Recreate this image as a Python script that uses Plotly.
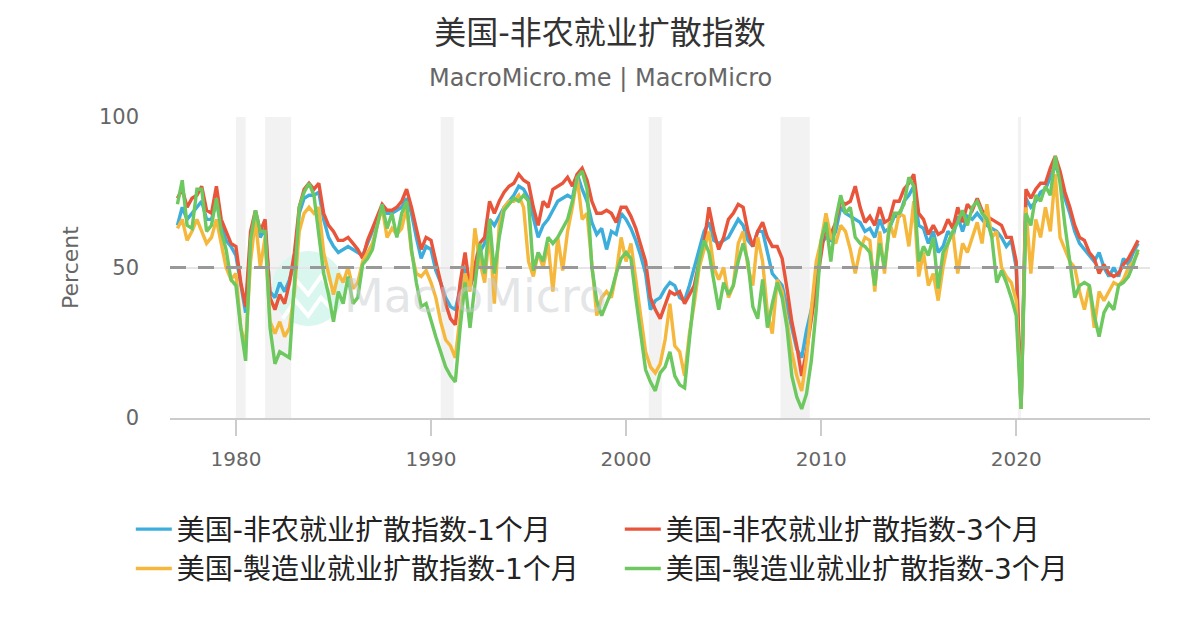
import pandas as pd
import plotly.graph_objects as go

# quarterly readings, 1977Q1 .. 2026Q2
nonfarm_1m = [
    64, 70, 66, 68, 70, 72, 66, 66, 72, 64, 59, 57, 54, 44, 35, 58,
    67, 60, 63, 42, 40, 45, 42, 46, 52, 68, 73, 74, 74, 75, 66, 60,
    57, 55, 56, 57, 56, 55, 54, 58, 62, 66, 70, 68, 68, 69, 70, 73,
    68, 60, 53, 57, 56, 49, 45, 40, 37, 36, 43, 50, 44, 48, 55, 58,
    66, 64, 67, 70, 72, 74, 77, 76, 73, 66, 60, 64, 66, 69, 72, 73,
    74, 73, 81, 76, 72, 65, 61, 63, 56, 62, 61, 68, 66, 63, 59, 54,
    48, 36, 39, 40, 43, 45, 44, 40, 39, 44, 50, 56, 62, 65, 59, 58,
    59, 60, 63, 66, 64, 59, 57, 62, 62, 55, 48, 46, 44, 37, 30, 23,
    20, 29, 36, 48, 58, 60, 59, 62, 70, 68, 67, 66, 65, 62, 63, 60,
    66, 62, 63, 67, 67, 72, 74, 77, 64, 63, 58, 62, 55, 57, 62, 60,
    67, 62, 67, 66, 68, 66, 64, 63, 62, 60, 57, 59, 50, 3, 73, 70,
    72, 75, 76, 80, 84, 80, 73, 68, 62, 58, 56, 54, 52, 55, 50, 47,
    50, 47, 53, 51, 55, 58,
]
nonfarm_3m = [
    73, 76, 70, 73, 74, 77, 69, 68, 77, 66, 62, 58, 57, 45, 37, 62,
    69, 62, 66, 40, 36, 41, 38, 45, 55, 70, 76, 78, 76, 78, 68, 64,
    62, 59, 59, 60, 58, 56, 53, 59, 63, 67, 71, 69, 69, 70, 72, 76,
    70, 63, 56, 60, 59, 52, 45, 38, 33, 31, 45, 55, 43, 50, 58, 60,
    72, 68, 72, 75, 77, 78, 81, 79, 78, 70, 64, 72, 70, 76, 77, 78,
    80, 77, 81, 83, 79, 72, 68, 68, 69, 68, 65, 70, 70, 67, 63, 57,
    52, 40, 36, 33, 38, 42, 41, 42, 38, 41, 44, 52, 58, 70, 62, 56,
    60, 66, 68, 71, 70, 62, 57, 62, 65, 60, 57, 57, 53, 43, 32, 24,
    14, 22, 33, 44, 56, 65, 61, 65, 72, 71, 72, 77, 70, 65, 67, 64,
    70, 65, 66, 72, 72, 76, 78, 81, 68, 66, 61, 64, 61, 62, 66, 63,
    70, 65, 71, 69, 73, 69, 67, 66, 65, 64, 60, 60, 52, 4, 76, 73,
    76, 78, 78, 83, 87, 82, 75, 70, 64, 60, 59, 55, 53, 48, 51, 48,
    47, 48, 51, 53, 56, 59,
]
manuf_1m = [
    63, 66, 59, 62, 66, 62, 58, 60, 66, 58, 50, 46, 48, 30, 24, 52,
    66, 50, 60, 32, 28, 32, 27, 30, 42, 62, 68, 70, 68, 70, 55, 48,
    41, 48, 45, 50, 43, 45, 52, 55, 58, 64, 70, 60, 63, 61, 63, 70,
    55, 48, 47, 49, 45, 40, 32, 26, 24, 20, 35, 48, 42, 63, 52, 45,
    62, 38, 64, 70, 72, 72, 74, 70, 52, 47, 55, 50, 58, 42, 60, 49,
    62, 70, 80, 66, 68, 52, 34, 40, 42, 40, 48, 60, 52, 58, 45, 34,
    22, 17, 15, 18, 26, 38, 24, 22, 14, 28, 38, 50, 56, 62, 50, 46,
    50, 40, 44, 58, 62, 50, 44, 60, 52, 35, 28, 46, 42, 32, 22, 14,
    9, 20, 36, 52, 59, 68, 60, 58, 64, 62, 56, 48, 56, 60, 59, 42,
    62, 48, 65, 60, 68, 67, 57, 72, 47, 55, 44, 48, 39, 50, 58, 62,
    48, 58, 55, 60, 65, 58, 71, 60, 62, 50, 47, 45, 39, 3, 70, 48,
    66, 60, 70, 62, 81, 60, 56, 52, 50, 42, 36, 44, 30, 42, 39, 42,
    45, 44, 46, 50, 52, 55,
]
manuf_3m = [
    71, 79, 64, 63, 76, 76, 62, 64, 73, 62, 56, 46, 44, 30, 19, 59,
    69, 62, 62, 30, 18, 22, 21, 20, 45, 70, 75, 78, 74, 61, 48, 41,
    32, 42, 38, 47, 38, 40, 51, 53, 56, 64, 71, 63, 68, 60, 68, 72,
    56, 45, 37, 38, 32, 27, 22, 17, 14, 12, 30, 45, 30, 45, 58, 48,
    66, 48, 60, 69, 71, 73, 72, 74, 72, 49, 55, 52, 60, 58, 60, 63,
    66, 72, 80, 82, 76, 50, 39, 34, 38, 42, 48, 53, 55, 53, 40, 28,
    16, 12, 9, 15, 17, 22, 14, 11, 10, 26, 41, 52, 59, 55, 45, 36,
    45, 41, 44, 52, 58, 52, 37, 33, 46, 30, 38, 45, 40, 30, 14, 7,
    3, 8, 19, 36, 59, 65, 52, 66, 74, 68, 70, 60, 58, 57, 55, 44,
    58, 50, 63, 68, 68, 71, 80, 77, 52, 57, 54, 60, 43, 55, 58, 62,
    65, 69, 64, 70, 72, 68, 66, 60, 45, 49, 45, 40, 34, 3, 68, 64,
    74, 72, 77, 74, 87, 78, 64, 52, 40, 44, 45, 44, 34, 27, 35, 38,
    36, 44, 45, 47, 51, 56,
]

recession_start = ["1980-01-01", "1981-07-01", "1990-07-01", "2001-03-01", "2007-12-01", "2020-02-01"]
recession_end = ["1980-07-01", "1982-11-01", "1991-03-01", "2001-11-01", "2009-06-01", "2020-04-01"]

dates = pd.date_range("1977-01-01", periods=len(nonfarm_3m), freq="QS")

series = [
    ("美国-非农就业扩散指数-1个月", nonfarm_1m, "#3daedc"),
    ("美国-非农就业扩散指数-3个月", nonfarm_3m, "#e8553b"),
    ("美国-製造业就业扩散指数-1个月", manuf_1m, "#f5b83d"),
    ("美国-製造业就业扩散指数-3个月", manuf_3m, "#6cc85f"),
]

font = "DejaVu Sans, Noto Sans CJK SC, sans-serif"

fig = go.Figure()
for name, vals, color in series:
    fig.add_trace(go.Scatter(x=dates, y=vals, name=name, mode="lines",
                             line=dict(color=color, width=3.4)))

# recession bands
for s, e in zip(recession_start, recession_end):
    fig.add_vrect(x0=s, x1=e, fillcolor="#f2f2f2", line_width=0, layer="below")

# watermark logo
fig.add_shape(type="circle", xref="paper", yref="paper",
              x0=0.104, x1=0.178, y0=0.305, y1=0.555,
              fillcolor="#d9f6ef", line_width=0, layer="below")
fig.add_shape(type="path", xref="paper", yref="paper", layer="below",
              path="M 0.115 0.40 L 0.128 0.46 L 0.141 0.41 L 0.154 0.47 L 0.168 0.42",
              line=dict(color="white", width=4))
fig.add_shape(type="path", xref="paper", yref="paper", layer="below",
              path="M 0.115 0.33 L 0.128 0.39 L 0.141 0.34 L 0.154 0.40 L 0.168 0.35",
              line=dict(color="white", width=4))
fig.add_annotation(text="MacroMicro", xref="paper", yref="paper", x=0.176, y=0.405,
                   xanchor="left", yanchor="middle", showarrow=False,
                   font=dict(family=font, size=46, color="rgba(200,203,208,0.5)"))

# 50 line
fig.add_hline(y=50, line=dict(color="#999999", width=3, dash="16px,12px"), layer="above")

fig.add_annotation(text="MacroMicro.me | MacroMicro", xref="paper", yref="paper",
                   x=(600 - 170) / 980, y=1.13, xanchor="center", yanchor="middle",
                   showarrow=False, font=dict(family=font, size=24, color="#666666"))

# page is drawn with an 8px body margin, so the figure is laid out 8px up/left
fig.update_layout(
    width=1200, height=630,
    margin=dict(l=162, r=58, t=109, b=220),
    paper_bgcolor="white", plot_bgcolor="white",
    font=dict(family=font, color="#666666"),
    title=dict(text="美国-非农就业扩散指数", x=(600 - 8) / 1200, xref="container",
               xanchor="center", y=1 - 25 / 630, yanchor="middle",
               font=dict(size=32, color="#333333")),
    showlegend=True,
    legend=dict(orientation="h", x=-0.04, y=-0.287, xanchor="left", yanchor="top",
                entrywidth=438, entrywidthmode="pixels", itemwidth=36,
                font=dict(size=28, color="#222222")),
)
fig.update_xaxes(type="date", range=["1976-08-15", "2026-11-10"],
                 tick0="1980-01-01", dtick="M120", tickformat="%Y",
                 showgrid=False, showline=True, linecolor="#cccccc", linewidth=2,
                 ticks="outside", ticklen=16, tickcolor="#cccccc", tickwidth=2,
                 ticklabelstandoff=6, tickfont=dict(size=20, color="#666666"))
fig.update_yaxes(range=[0, 100], tickvals=[0, 50, 100], showgrid=True,
                 gridcolor="#e6e6e6", gridwidth=1.5, zeroline=False,
                 ticklabelstandoff=30, tickfont=dict(size=21, color="#666666"),
                 title=dict(text="Percent", font=dict(size=22, color="#666666"), standoff=14))

fig.write_html("out.html")
